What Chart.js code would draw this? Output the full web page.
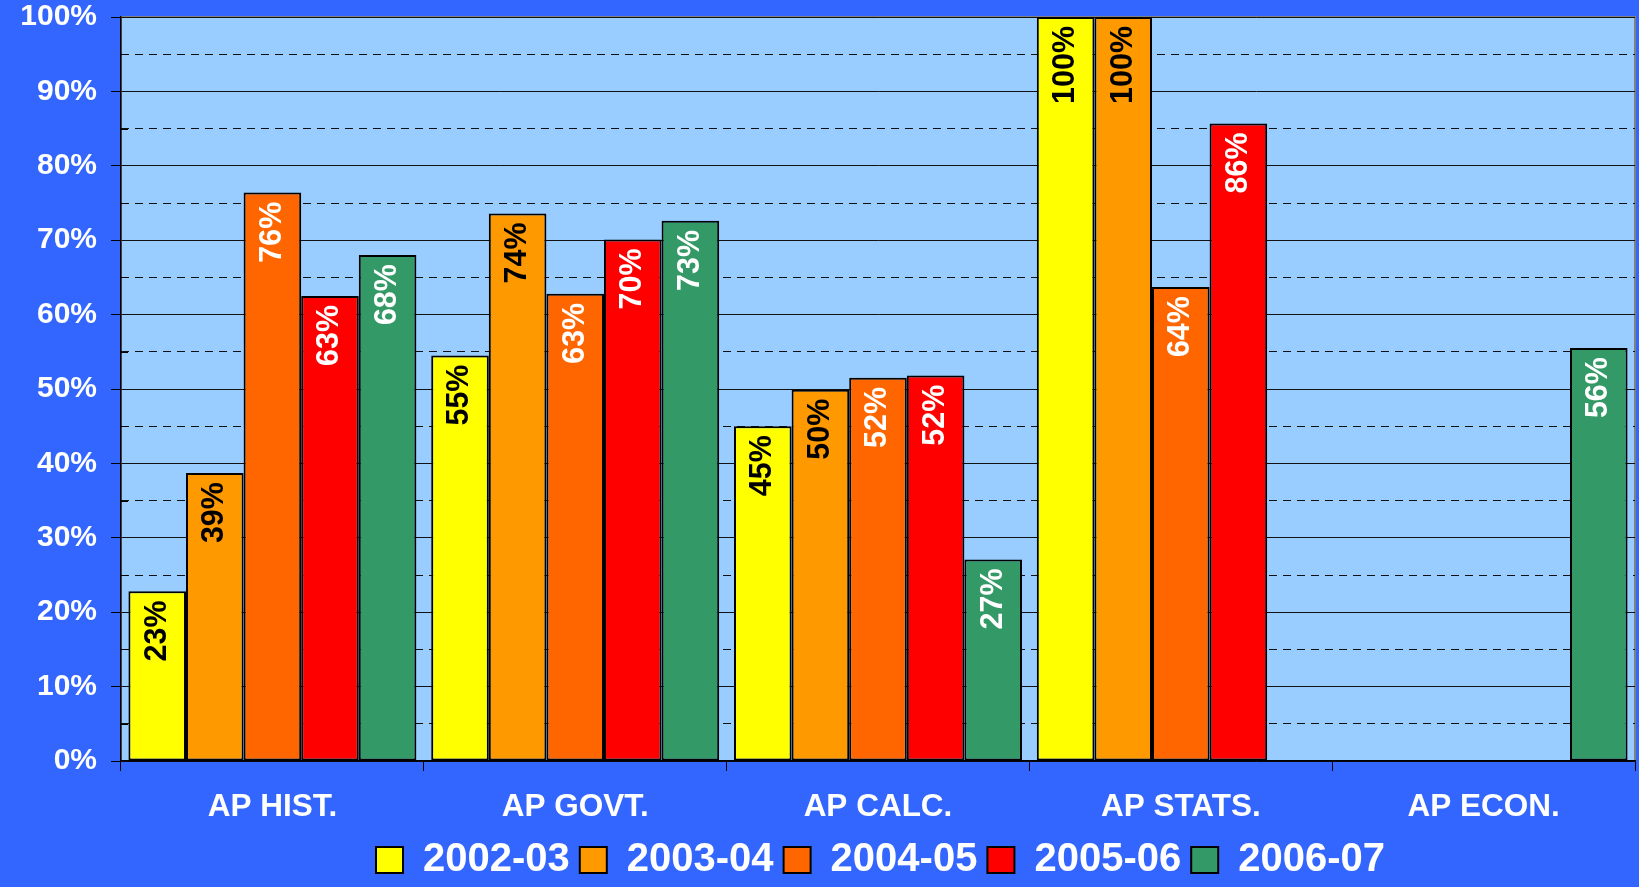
<!DOCTYPE html>
<html><head><meta charset="utf-8">
<script src="https://cdn.jsdelivr.net/npm/chart.js@4/dist/chart.umd.min.js"></script>
<style>html,body{margin:0;padding:0;background:#3366FF;overflow:hidden}
#wrap{width:1639px;height:887px;position:relative}</style>
</head><body><div id="wrap"><canvas id="c" width="1639" height="887"></canvas></div>
<script>
const categories = ['AP HIST.', 'AP GOVT.', 'AP CALC.', 'AP STATS.', 'AP ECON.'];
const seriesNames = ['2002-03', '2003-04', '2004-05', '2005-06', '2006-07'];
const s2002_03 = [22.8, 54.5, 45.0, 100, null];
const s2003_04 = [38.7, 73.6, 49.9, 100, null];
const s2004_05 = [76.4, 62.8, 51.5, 63.7, null];
const s2005_06 = [62.5, 70.1, 51.8, 85.7, null];
const s2006_07 = [68.0, 72.6, 27.1, null, 55.5];
const yTickLabels = ['0%','10%','20%','30%','40%','50%','60%','70%','80%','90%','100%'];

const seriesValues = [s2002_03, s2003_04, s2004_05, s2005_06, s2006_07];
const seriesColors = ['#FFFF00', '#FF9900', '#FF6600', '#FF0000', '#339966'];
const labelColors = ['#000000', '#000000', '#FFFFFF', '#FFFFFF', '#FFFFFF'];
const FONT = '"Liberation Sans", Arial, sans-serif';
Chart.defaults.font.family = FONT;

const bgPlugin = {
  id: 'bg',
  beforeDraw(chart) {
    const {ctx, chartArea: a} = chart;
    ctx.save();
    ctx.fillStyle = '#3366FF';
    ctx.fillRect(0, 0, chart.width, chart.height);
    ctx.fillStyle = '#99CCFF';
    ctx.fillRect(a.left, a.top, a.right - a.left, a.bottom - a.top);
    ctx.strokeStyle = '#808080';
    ctx.lineWidth = 2;
    ctx.strokeRect(a.left, a.top, a.right - a.left, a.bottom - a.top);
    ctx.restore();
  },
  afterDraw(chart) {
    // minor tick marks (inside) at the 5% steps
    const {ctx, chartArea: a} = chart;
    const s = chart.scales.y2;
    ctx.save();
    ctx.strokeStyle = '#000000';
    ctx.lineWidth = 1;
    s.ticks.forEach(t => {
      if (Math.round(t.value) % 10 !== 5) return;
      const y = Math.round(s.getPixelForValue(t.value)) + 0.5;
      ctx.beginPath();
      ctx.moveTo(a.left, y);
      ctx.lineTo(a.left + 7, y);
      ctx.stroke();
    });
    ctx.restore();
  }
};

const labelPlugin = {
  id: 'vlabels',
  afterDatasetsDraw(chart) {
    const ctx = chart.ctx;
    chart.data.datasets.forEach((ds, di) => {
      const meta = chart.getDatasetMeta(di);
      meta.data.forEach((bar, i) => {
        const v = ds.data[i];
        if (v == null) return;
        ctx.save();
        ctx.translate(bar.x, bar.y + 9);
        ctx.rotate(-Math.PI / 2);
        ctx.font = 'bold 30.5px ' + FONT;
        ctx.fillStyle = labelColors[di];
        ctx.textAlign = 'right';
        ctx.textBaseline = 'middle';
        ctx.fillText(Math.round(v) + '%', 0, 0);
        ctx.restore();
      });
    });
  }
};

const legendShift = {
  id: 'legendShift',
  afterLayout(chart) {
    const l = chart.legend;
    l.left += 63; l.right += 63;
    l.top += 3; l.bottom += 3;
  }
};

new Chart(document.getElementById('c'), {
  type: 'bar',
  data: {
    labels: categories,
    datasets: seriesNames.map((n, i) => ({
      label: n,
      data: seriesValues[i],
      backgroundColor: seriesColors[i],
      borderColor: '#000000',
      borderWidth: 2,
      borderSkipped: false,
      categoryPercentage: 0.951,
      barPercentage: 1.0,
      yAxisID: 'y'
    }))
  },
  options: {
    responsive: false,
    animation: false,
    devicePixelRatio: 1,
    layout: {padding: {left: 0, right: 4, top: 0, bottom: 0}},
    plugins: {
      tooltip: {enabled: false},
      legend: {
        position: 'bottom',
        labels: {
          color: '#FFFFFF',
          font: {size: 40, weight: 'bold', family: FONT},
          boxWidth: 27,
          boxHeight: 26,
          padding: 10
        }
      }
    },
    scales: {
      x: {
        grid: {offset: true, drawOnChartArea: false, drawTicks: true, tickLength: 10, color: '#000000'},
        border: {color: '#000000', width: 1.5},
        ticks: {color: '#FFFFFF', font: {size: 31.5, weight: 'bold', lineHeight: 1.2}, padding: 17, maxRotation: 0, autoSkip: false},
        afterFit(a) { a.height = 66; }
      },
      y: {
        min: 0, max: 100,
        position: 'left',
        ticks: {
          stepSize: 10,
          color: '#FFFFFF',
          font: {size: 30, weight: 'bold', lineHeight: 1.133},
          padding: 14,
          callback: (v) => yTickLabels[Math.round(v / 10)]
        },
        grid: {color: '#111111', lineWidth: 1, tickLength: 10, tickColor: '#000000'},
        border: {color: '#000000', width: 1.5},
        afterFit(a) { a.width = 121; a.paddingTop = 17; a.paddingBottom = 0; }
      },
      y2: {
        min: 0, max: 100,
        position: 'left',
        ticks: {stepSize: 5, display: false},
        grid: {
          drawTicks: false,
          lineWidth: 1,
          color: (c) => (c.tick && Math.round(c.tick.value) % 10 === 5) ? '#111111' : 'rgba(0,0,0,0)'
        },
        border: {display: false, dash: [8, 6]},
        afterFit(a) { a.width = 0; a.paddingTop = 0; a.paddingBottom = 0; }
      }
    }
  },
  plugins: [bgPlugin, labelPlugin, legendShift]
});
</script>
</body></html>
